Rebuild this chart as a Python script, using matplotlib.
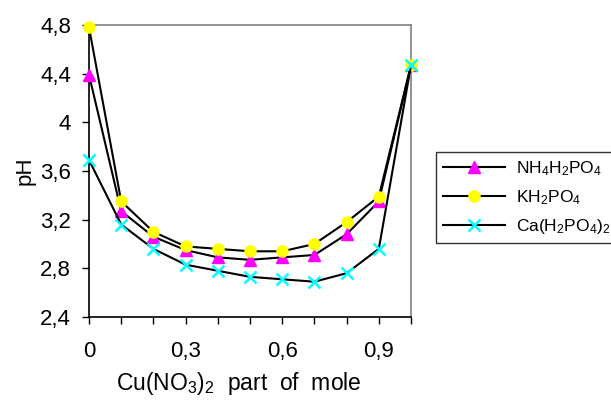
import matplotlib
matplotlib.use("Agg")
import matplotlib.pyplot as plt

plt.rcParams['font.family'] = ['Liberation Sans', 'DejaVu Sans']
plt.rcParams['mathtext.fontset'] = 'custom'
plt.rcParams['mathtext.rm'] = 'Liberation Sans'
plt.rcParams['mathtext.it'] = 'Liberation Sans'
plt.rcParams['mathtext.bf'] = 'Liberation Sans'

x = [0, 0.1, 0.2, 0.3, 0.4, 0.5, 0.6, 0.7, 0.8, 0.9, 1.0]
nh4 = [4.39, 3.27, 3.06, 2.95, 2.89, 2.87, 2.89, 2.91, 3.08, 3.35, 4.47]
kh2 = [4.78, 3.35, 3.10, 2.98, 2.96, 2.94, 2.94, 3.00, 3.18, 3.39, 4.47]
ca = [3.69, 3.16, 2.96, 2.83, 2.78, 2.73, 2.71, 2.69, 2.76, 2.96, 4.47]

xticks = [0, 0.1, 0.2, 0.3, 0.4, 0.5, 0.6, 0.7, 0.8, 0.9, 1.0]
xlabels = ['0', '', '', '0,3', '', '', '0,6', '', '', '0,9', '']
yticks = [2.4, 2.8, 3.2, 3.6, 4.0, 4.4, 4.8]
ylabels = ['2,4', '2,8', '3,2', '3,6', '4', '4,4', '4,8']

fig = plt.figure(figsize=(6.11, 4.0), dpi=100)
ax = fig.add_axes([0.1457, 0.2075, 0.527, 0.73])

ax.plot(x, nh4, color='black', lw=1.5, marker='^', ms=8, mfc='#ff00ff', mec='#ff00ff',
        label=r'NH$_4$H$_2$PO$_4$', clip_on=False, zorder=3)
ax.plot(x, kh2, color='black', lw=1.5, marker='o', ms=8, mfc='#ffff00', mec='#ffff00',
        label=r'KH$_2$PO$_4$', clip_on=False, zorder=3)
ax.plot(x, ca, color='black', lw=1.5, marker='x', ms=9, mew=1.8, mfc='#00ffff', mec='#00ffff',
        label=r'Ca(H$_2$PO$_4$)$_2$', clip_on=False, zorder=3)

ax.set_xlim(0, 1.0)
ax.set_ylim(2.4, 4.8)
ax.set_xticks(xticks)
ax.set_xticklabels(xlabels)
ax.set_yticks(yticks)
ax.set_yticklabels(ylabels)
ax.tick_params(axis='both', direction='out', length=5, width=1, labelsize=16, color='black')
ax.tick_params(axis='x', pad=12)
ax.tick_params(axis='y', pad=8)

for s in ['top', 'right']:
    ax.spines[s].set_color('#808080')
    ax.spines[s].set_linewidth(1.2)
for s in ['left', 'bottom']:
    ax.spines[s].set_color('black')
    ax.spines[s].set_linewidth(1.2)

ax.set_xlabel(r'Cu(NO$_3$)$_2$  part  of  mole', fontsize=16.5, labelpad=6)
ax.xaxis.label.set_x(0.465)
ax.set_ylabel('pH', fontsize=16, labelpad=3)

leg = fig.legend(loc='upper left', bbox_to_anchor=(436/611, 1 - 152/400), fontsize=12.5,
                 frameon=True, fancybox=False, edgecolor='black', handlelength=3.6,
                 borderpad=0.4, labelspacing=0.6, handletextpad=0.6, borderaxespad=0)
leg.get_frame().set_linewidth(1.0)

fig.savefig('out.png', dpi=100)
